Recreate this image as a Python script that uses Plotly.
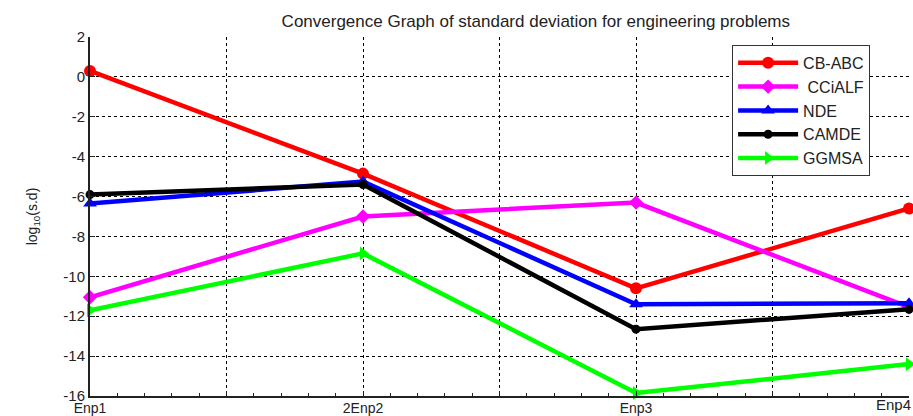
import plotly.graph_objects as go

x_vals = [1, 2, 3, 4]
x_tick_vals = [1, 1.5, 2, 2.5, 3, 3.5, 4]
x_tick_text = ["Enp1", "", "2Enp2", "", "Enp3", "", ""]
last_x_label = "Enp4"
y_tick_vals = [2, 0, -2, -4, -6, -8, -10, -12, -14, -16]
y_tick_text = ["2", "0", "-2", "-4", "-6", "-8", "-10", "-12", "-14", "-16"]

names = ["CB-ABC", " CCiALF", "NDE", "CAMDE", "GGMSA"]
cb_abc = [0.3, -4.85, -10.6, -6.6]
cciALF = [-11.05, -7.0, -6.3, -11.55]
nde = [-6.35, -5.25, -11.4, -11.35]
camde = [-5.9, -5.4, -12.65, -11.65]
ggmsa = [-11.7, -8.85, -15.85, -14.4]
colors = ["#ff0000", "#ff00ff", "#0000ff", "#000000", "#00ff00"]
symbols = ["circle", "diamond", "triangle-up", "circle", "triangle-right"]
sizes = [12, 11, 12, 9, 12]

series = [cb_abc, cciALF, nde, camde, ggmsa]

fig = go.Figure()
for n, s, c, sym, sz in zip(names, series, colors, symbols, sizes):
    fig.add_trace(go.Scatter(
        x=x_vals, y=s, name=n, mode="lines+markers",
        line=dict(color=c, width=4.5),
        marker=dict(color=c, symbol=sym, size=sz),
        cliponaxis=False,
    ))

fig.add_annotation(
    x=x_vals[-1], y=0, xref="x", yref="paper", text=last_x_label,
    showarrow=False, xanchor="right", yanchor="top", yshift=2, xshift=4,
    font=dict(size=15, color="#222"),
)

fig.update_layout(
    width=913, height=416,
    margin=dict(l=90, r=4, t=37, b=20, autoexpand=False),
    paper_bgcolor="white", plot_bgcolor="white",
    font=dict(family="Liberation Sans, Arial", size=16, color="#222"),
    title=dict(text="Convergence Graph of standard deviation for engineering problems",
               x=497 / 913, xanchor="center", xref="paper", y=1 - 21 / 416,
               yanchor="middle", font=dict(size=17, color="#222")),
    legend=dict(x=0.784, y=0.978, xanchor="left", yanchor="top",
                bordercolor="#333", borderwidth=1, bgcolor="white",
                font=dict(size=16, color="#222"), tracegroupgap=0,
                itemwidth=60),
    showlegend=True,
)
fig.update_xaxes(
    range=[1, 4], tickvals=x_tick_vals, ticktext=x_tick_text,
    showgrid=True, gridcolor="#000", griddash="3px,3px", gridwidth=1,
    showline=True, linecolor="#222", linewidth=2,
    ticks="inside", ticklen=5, tickcolor="#222",
    minor=dict(dtick=0.1, ticks="inside", ticklen=3, tickcolor="#222", showgrid=False),
    zeroline=False, tickfont=dict(size=14), ticklabelstandoff=-2, automargin=False,
)
fig.update_yaxes(
    range=[-16, 2], tickvals=y_tick_vals, ticktext=y_tick_text,
    showgrid=True, gridcolor="#000", griddash="3px,3px", gridwidth=1,
    showline=True, linecolor="#222", linewidth=2,
    ticks="inside", ticklen=5, tickcolor="#222",
    zeroline=False, tickfont=dict(size=15), automargin=False,
    title=dict(text="log<sub>10</sub>(s.d)", font=dict(size=14), standoff=22),
)
fig.write_html("out.html")
